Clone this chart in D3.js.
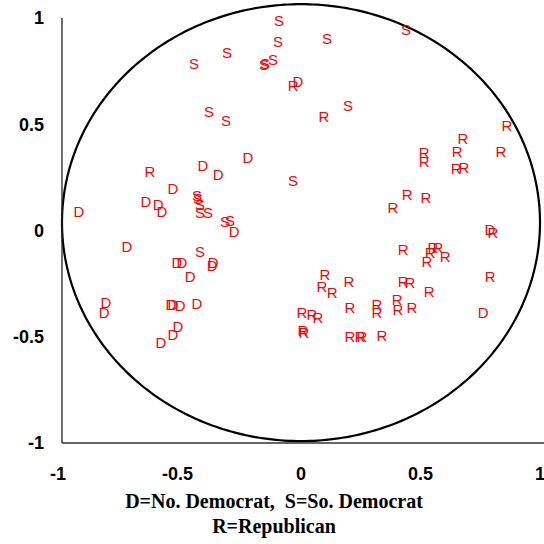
<!DOCTYPE html>
<html>
<head>
<meta charset="utf-8">
<script src="https://cdn.jsdelivr.net/npm/d3@7"></script>
<style>
  html, body { margin: 0; padding: 0; background: #fff; }
  svg { display: block; }
</style>
</head>
<body>
<svg id="chart" width="544" height="544"></svg>
<script>
// Two-dimensional ideal-point estimates of legislators, by party group.
const northDemX = [-0.013, -0.410, -0.347, -0.222, -0.536, -0.929, -0.649, -0.598, -0.582, -0.280,
                   -0.728, -0.519, -0.498, -0.368, -0.372, -0.464, -0.816, -0.824, -0.544, -0.536,
                   -0.506, -0.435, -0.515, -0.536, -0.586, 0.790, 0.762];
const northDemY = [0.699, 0.304, 0.261, 0.341, 0.195, 0.087, 0.134, 0.120, 0.087, -0.007,
                   -0.078, -0.153, -0.153, -0.153, -0.167, -0.219, -0.341, -0.388, -0.351, -0.351,
                   -0.355, -0.346, -0.454, -0.492, -0.529, 0.003, -0.384];

const southDemX = [-0.448, -0.310, -0.092, -0.096, -0.155, -0.151, -0.117, 0.109, 0.439, -0.385,
                   -0.314, 0.197, -0.033, -0.435, -0.431, -0.423, -0.423, -0.389, -0.318, -0.297,
                   -0.423];
const southDemY = [0.784, 0.835, 0.986, 0.887, 0.779, 0.784, 0.802, 0.901, 0.944, 0.558,
                   0.515, 0.586, 0.233, 0.162, 0.148, 0.120, 0.082, 0.082, 0.040, 0.045,
                   -0.101];

const repubX = [-0.033, 0.096, -0.632, 0.862, 0.678, 0.653, 0.837, 0.515, 0.515, 0.649,
                0.682, 0.444, 0.523, 0.385, 0.803, 0.427, 0.552, 0.573, 0.540, 0.603,
                0.527, 0.791, 0.100, 0.088, 0.130, 0.201, 0.427, 0.456, 0.536, 0.402,
                0.406, 0.464, 0.318, 0.318, 0.205, 0.004, 0.046, 0.071, 0.008, 0.012,
                0.205, 0.247, 0.255, 0.339];
const repubY = [0.680, 0.534, 0.275, 0.496, 0.431, 0.369, 0.369, 0.365, 0.322, 0.289,
                0.294, 0.167, 0.153, 0.106, -0.012, -0.092, -0.082, -0.082, -0.106, -0.125,
                -0.148, -0.219, -0.209, -0.266, -0.294, -0.242, -0.242, -0.247, -0.289, -0.327,
                -0.374, -0.365, -0.351, -0.384, -0.365, -0.384, -0.398, -0.412, -0.473, -0.480,
                -0.501, -0.501, -0.501, -0.496];

const xTicks = [-1, -0.5, 0, 0.5, 1];
const yTicks = [-1, -0.5, 0, 0.5, 1];
const captionLines = ["D=No. Democrat,  S=So. Democrat", "R=Republican"];

// Reference ellipse (unit circle as laid out on the page)
const ringCenter = [0, 0.037];
const ringRadius = [1.0, 1.028];

const groups = [
  { code: "D", xs: northDemX, ys: northDemY },
  { code: "S", xs: southDemX, ys: southDemY },
  { code: "R", xs: repubX, ys: repubY }
];

const svg = d3.select("#chart");
const x = d3.scaleLinear().domain([-1, 1]).range([62, 540]);
const y = d3.scaleLinear().domain([-1, 1]).range([443, 18]);

// Ellipse outline
const angles = d3.range(0, 360, 1).map(a => a * Math.PI / 180);
const ring = d3.line()
  .x(t => x(ringCenter[0] + ringRadius[0] * Math.cos(t)))
  .y(t => y(ringCenter[1] + ringRadius[1] * Math.sin(t)))
  .curve(d3.curveLinearClosed);
svg.append("path")
  .attr("d", ring(angles))
  .attr("fill", "none")
  .attr("stroke", "#000")
  .attr("stroke-width", 2.2);

// Axis lines
svg.append("line")
  .attr("x1", x(-1)).attr("x2", x(-1))
  .attr("y1", y(1)).attr("y2", y(-1))
  .attr("stroke", "#222").attr("stroke-width", 1.3);
svg.append("line")
  .attr("x1", x(-1)).attr("x2", 544)
  .attr("y1", y(-1)).attr("y2", y(-1))
  .attr("stroke", "#333").attr("stroke-width", 1.6);

// Tick labels
const fmt = v => String(v);
svg.append("g").selectAll("text").data(yTicks).join("text")
  .attr("x", 44)
  .attr("y", d => y(d))
  .attr("dy", "0.36em")
  .attr("text-anchor", "end")
  .attr("font-family", "Liberation Sans, Arial, sans-serif")
  .attr("font-weight", "bold")
  .attr("font-size", 18)
  .attr("fill", "#000")
  .text(fmt);

svg.append("g").selectAll("text").data(xTicks).join("text")
  .attr("x", d => x(d) - (d < 0 ? 4 : 0))
  .attr("y", 480)
  .attr("text-anchor", "middle")
  .attr("font-family", "Liberation Sans, Arial, sans-serif")
  .attr("font-weight", "bold")
  .attr("font-size", 18)
  .attr("fill", "#000")
  .text(fmt);

// Party letters at each legislator's position
groups.forEach(g => {
  const pts = g.xs.map((v, i) => [v, g.ys[i]]);
  svg.append("g").selectAll("text").data(pts).join("text")
    .attr("x", d => x(d[0]))
    .attr("y", d => y(d[1]))
    .attr("dy", "0.36em")
    .attr("text-anchor", "middle")
    .attr("font-family", "Liberation Sans, Arial, sans-serif")
    .attr("font-size", 15)
    .attr("fill", "#ff0000")
    .text(g.code);
});

// Caption
svg.append("g").selectAll("text").data(captionLines).join("text")
  .attr("x", 274)
  .attr("y", (d, i) => 508 + i * 25)
  .attr("text-anchor", "middle")
  .attr("font-family", "Liberation Serif, Times New Roman, serif")
  .attr("font-weight", "bold")
  .attr("font-size", 20)
  .attr("fill", "#000")
  .style("white-space", "pre")
  .text(d => d);
</script>
</body>
</html>
